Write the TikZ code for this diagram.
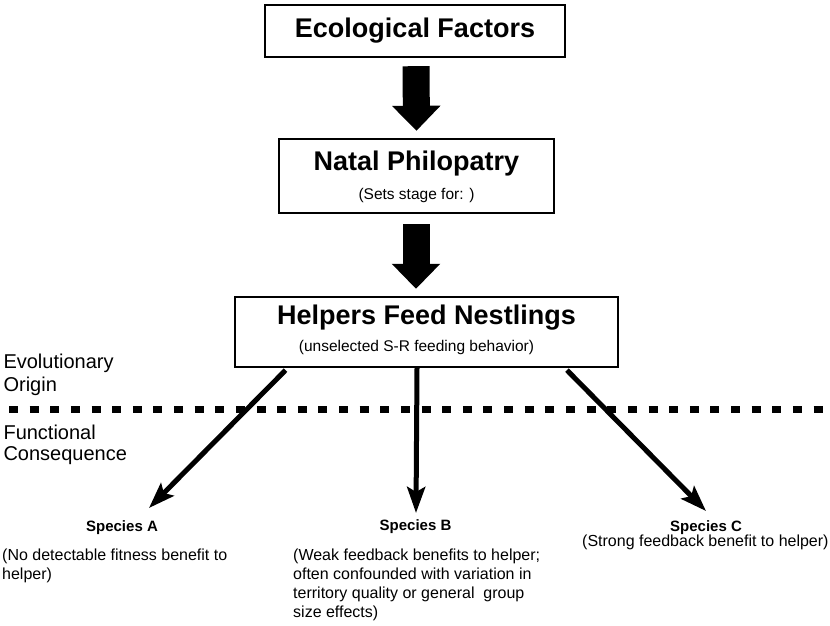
\documentclass[tikz,border=0pt]{standalone}
\usepackage{fontspec}
\setmainfont{Liberation Sans}
\usetikzlibrary{arrows.meta}

\tikzset{
  box/.style={draw, line width=2.4pt, inner sep=0pt},
  titletext/.style={font=\fontsize{27}{32}\selectfont\bfseries},
  subtext/.style={font=\fontsize{15.5}{19}\selectfont},
  sidetext/.style={font=\fontsize{20}{24}\selectfont, anchor=west},
  speciestext/.style={font=\fontsize{15}{18}\selectfont\bfseries},
  desctext/.style={font=\fontsize{16}{19}\selectfont, align=left, anchor=north west, inner sep=0pt},
  bigarrow/.style={line width=27pt, -{Triangle[width=47pt, length=25pt]}},
  thinarrow/.style={line width=5pt, -{Stealth[length=26pt, width=18pt, inset=5pt]}},
  divider/.style={line width=7pt, dash pattern=on 9pt off 11.63pt}
}

\begin{document}
\begin{tikzpicture}[x=1pt, y=-1pt]
  \useasboundingbox (0, 0) rectangle (830, 626);

  % Ecological Factors
  \node[box, minimum width=300pt, minimum height=52pt] (eco) at (415, 31) {};
  \node[titletext] (ecoT) at (eco.center) {Ecological Factors};

  % Natal Philopatry
  \node[box, minimum width=275pt, minimum height=74pt] (natal) at (416.5, 176) {};
  \node[titletext] (natalT) at ([yshift=12pt]natal.center) {Natal Philopatry};
  \node[subtext] (natalS) at ([yshift=-19pt]natal.center) {(Sets stage for: )};

  % Helpers Feed Nestlings
  \node[box, minimum width=383pt, minimum height=70pt] (helpers) at (426.5, 332) {};
  \node[titletext] (helpersT) at ([yshift=14pt]helpers.center) {Helpers Feed Nestlings};
  \node[subtext] (helpersS) at ([xshift=-10pt, yshift=-15pt]helpers.center) {(unselected S-R feeding behavior)};

  % Block arrows
  \draw[bigarrow, shorten <=8pt, shorten >=7pt] ([xshift=1pt]eco.south) -- (natal.north);
  \draw[bigarrow, shorten <=10pt, shorten >=7pt] ([xshift=-0.5pt]natal.south) -- ([xshift=-10.5pt]helpers.north);

  % Origin / Consequence divider
  \coordinate (divL) at (9, 409);
  \coordinate (divR) at (830, 409);
  \draw[divider] (divL) -- (divR);
  \node[sidetext] (evo) at (0, 363) {Evolutionary};
  \node[sidetext] (origin) at (0, 386) {Origin};
  \node[sidetext] (func) at (0, 432) {Functional};
  \node[sidetext] (cons) at (0, 456) {Consequence};

  % Species
  \node[speciestext] (spA) at (122, 528) {Species A};
  \node[speciestext] (spB) at (415.5, 527) {Species B};
  \node[speciestext] (spC) at (706, 528) {Species C};
  \node[desctext] (descA) at (2, 549) {(No detectable fitness benefit to\\helper)};
  \node[desctext] (descB) at (293, 549) {(Weak feedback benefits to helper;\\often confounded with variation in\\territory quality or general~ group\\size effects)};
  \node[desctext] (descC) at (582, 535) {(Strong feedback benefit to helper)};

  % Arrow tips
  \coordinate (tipA) at (149, 508);
  \coordinate (tipB) at (416, 513);
  \coordinate (tipC) at (706, 511);
  \draw[thinarrow] ([xshift=-141pt, yshift=-2pt]helpers.south) -- (tipA);
  \draw[thinarrow] ([xshift=-9.5pt]helpers.south) -- (tipB);
  \draw[thinarrow] ([xshift=140.5pt, yshift=-2pt]helpers.south) -- (tipC);
\end{tikzpicture}
\end{document}
